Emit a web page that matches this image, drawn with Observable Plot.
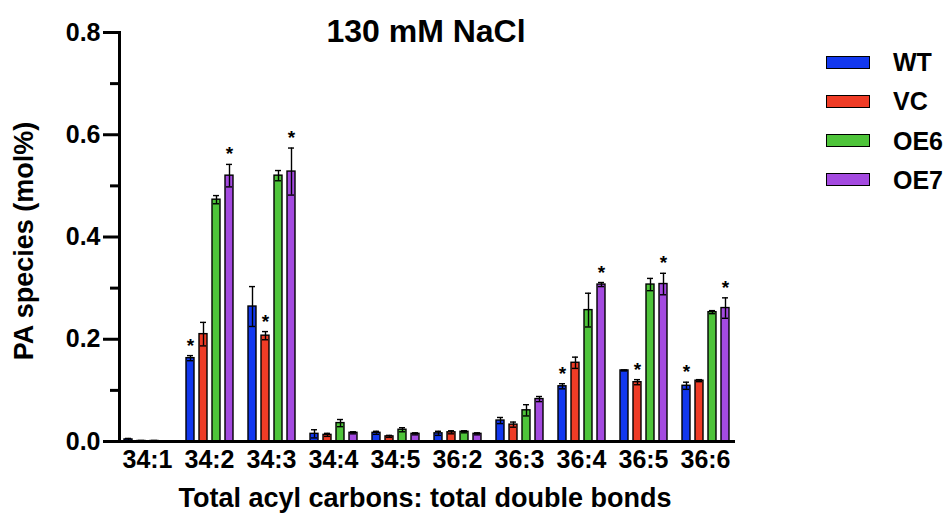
<!DOCTYPE html>
<html>
<head>
<meta charset="utf-8">
<script src="https://cdn.jsdelivr.net/npm/d3@7"></script>
<script src="https://cdn.jsdelivr.net/npm/@observablehq/plot@0.6"></script>
<style>
  html, body { margin: 0; padding: 0; background: #fff; }
  #wrap { position: relative; width: 946px; height: 514px; font-family: "Liberation Sans", Arial, sans-serif; font-weight: bold; color: #000; }
  #title { position: absolute; left: 126px; width: 600px; top: 15px; text-align: center; font-size: 32px; line-height: 32px; white-space: nowrap; }
  #xlabel { position: absolute; left: 125px; width: 600px; top: 485px; text-align: center; font-size: 27px; line-height: 27px; white-space: nowrap; }
  #ylabel { position: absolute; left: 24px; top: 241px; transform: translate(-50%, -50%) rotate(-90deg); font-size: 27px; line-height: 27px; white-space: nowrap; }
  #legend { position: absolute; left: 826px; top: 49px; }
  .row { display: flex; align-items: center; height: 26px; margin-bottom: 13.3px; position: relative; }
  .sw { width: 42px; height: 11px; border: 1.5px solid #000; }
  .lab { position: absolute; left: 67px; font-size: 25px; line-height: 26px; }
  svg { display: block; }
</style>
</head>
<body>
<div id="wrap">
  <div id="chart"></div>
  <div id="title"></div>
  <div id="ylabel"></div>
  <div id="xlabel"></div>
  <div id="legend"></div>
</div>
<script>
const titleText = "130 mM NaCl";
const xLabelText = "Total acyl carbons: total double bonds";
const yLabelText = "PA species (mol%)";
const categories = ["34:1","34:2","34:3","34:4","34:5","36:2","36:3","36:4","36:5","36:6"];
const genotypes = ["WT","VC","OE6","OE7"];
const colors = ["#1238ef","#ef3c26","#4ec43a","#a44ae0"];
const yTicks = [0, 0.2, 0.4, 0.6, 0.8];
const yMinorTicks = [0.1, 0.3, 0.5, 0.7];

const wt     = [0.004, 0.163, 0.264, 0.015, 0.017, 0.016, 0.041, 0.108, 0.139, 0.109];
const wtErr  = [0.002, 0.005, 0.039, 0.008, 0.003, 0.004, 0.006, 0.005, 0.001, 0.007];
const vc     = [0.001, 0.210, 0.207, 0.013, 0.010, 0.018, 0.033, 0.154, 0.116, 0.119];
const vcErr  = [0.001, 0.023, 0.008, 0.003, 0.002, 0.003, 0.005, 0.011, 0.005, 0.002];
const oe6    = [0.001, 0.473, 0.520, 0.036, 0.023, 0.019, 0.061, 0.257, 0.307, 0.253];
const oe6Err = [0.001, 0.008, 0.010, 0.007, 0.004, 0.002, 0.011, 0.033, 0.012, 0.003];
const oe7    = [0.000, 0.520, 0.528, 0.017, 0.015, 0.015, 0.083, 0.307, 0.308, 0.261];
const oe7Err = [0.000, 0.022, 0.046, 0.002, 0.002, 0.002, 0.005, 0.004, 0.021, 0.020];

const wtStars  = ["34:2","36:4","36:6"];
const vcStars  = ["34:3","36:5"];
const oe6Stars = [];
const oe7Stars = ["34:2","34:3","36:4","36:5","36:6"];

const series = [wt, vc, oe6, oe7];
const errs = [wtErr, vcErr, oe6Err, oe7Err];
const stars = [wtStars, vcStars, oe6Stars, oe7Stars];

const rows = categories.flatMap((c, i) => genotypes.map((g, j) => ({
  cat: c, g, v: series[j][i], e: errs[j][i], star: stars[j].includes(c)
})));

const chart = Plot.plot({
  width: 946,
  height: 514,
  marginLeft: 118,
  marginRight: 212,
  marginTop: 32,
  marginBottom: 73,
  style: { fontFamily: '"Liberation Sans", Arial, sans-serif', fontWeight: "bold", background: "white", color: "black" },
  fx: { domain: categories, paddingInner: 0.1, paddingOuter: 0, label: null },
  x: { domain: genotypes, paddingInner: 0.42, paddingOuter: 0.3, axis: null },
  y: { domain: [0, 0.8], axis: null },
  color: { domain: genotypes, range: colors },
  marks: [
    Plot.barY(rows, { fx: "cat", x: "g", y: "v", fill: "g", stroke: "black", strokeWidth: 1.4 }),
    Plot.ruleX(rows, { fx: "cat", x: "g", y1: d => Math.max(0, d.v - d.e), y2: d => d.v + d.e, stroke: "black", strokeWidth: 1.4 }),
    Plot.tickY(rows, { fx: "cat", x: "g", y: d => d.v + d.e, stroke: "black", strokeWidth: 1.4, insetLeft: 1, insetRight: 1 }),
    Plot.tickY(rows, { fx: "cat", x: "g", y: d => Math.max(0, d.v - d.e), stroke: "black", strokeWidth: 1.4, insetLeft: 1, insetRight: 1 }),
    Plot.text(rows.filter(d => d.star), { fx: "cat", x: "g", y: d => d.v + d.e, text: () => "*", dy: -4, fontSize: 19, lineAnchor: "bottom", fill: "black" }),
    Plot.frame({ anchor: "bottom", facet: "super", stroke: "black", strokeWidth: 3 }),
    Plot.frame({ anchor: "left", facet: "super", stroke: "black", strokeWidth: 3 }),
    Plot.axisY({ ticks: yTicks, tickFormat: d3.format(".1f"), tickSize: 16, tickPadding: 3, strokeWidth: 3, fontSize: 25, label: null }),
    Plot.axisY({ ticks: yMinorTicks, tickFormat: () => "", tickSize: 9, strokeWidth: 3, label: null }),
    Plot.axisFx({ anchor: "bottom", tickSize: 0, tickPadding: 9, fontSize: 25, label: null })
  ]
});
document.getElementById("chart").appendChild(chart);

document.getElementById("title").textContent = titleText;
document.getElementById("xlabel").textContent = xLabelText;
document.getElementById("ylabel").textContent = yLabelText;
const legend = document.getElementById("legend");
genotypes.forEach((g, i) => {
  const row = document.createElement("div");
  row.className = "row";
  const sw = document.createElement("div");
  sw.className = "sw";
  sw.style.background = colors[i];
  const lab = document.createElement("div");
  lab.className = "lab";
  lab.textContent = g;
  row.appendChild(sw);
  row.appendChild(lab);
  legend.appendChild(row);
});
</script>
</body>
</html>
